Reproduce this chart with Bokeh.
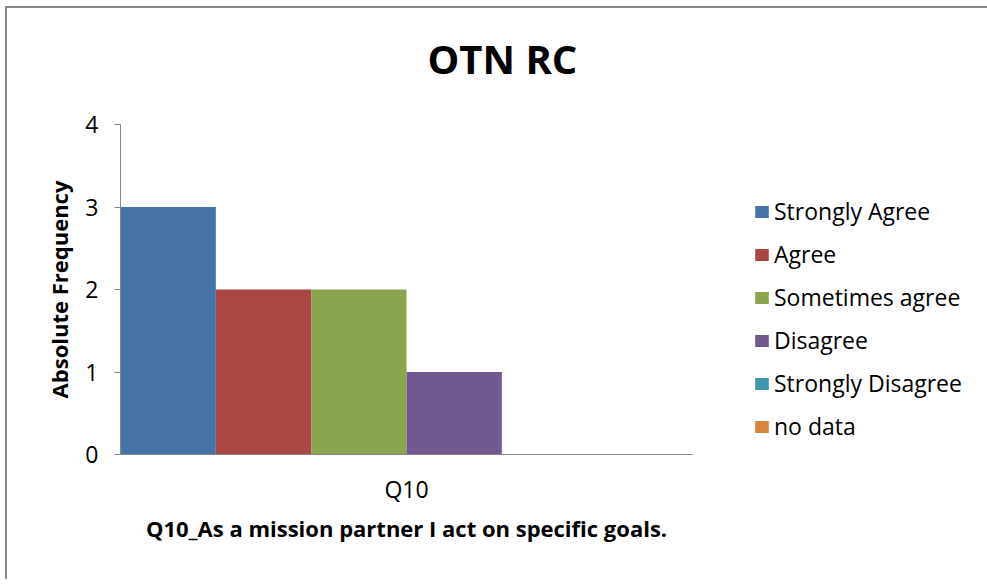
from bokeh.plotting import figure
from bokeh.models import (FactorRange, Range1d, FixedTicker, Legend, LegendItem, Title)
from bokeh.transform import dodge
from bokeh.embed import file_html
from bokeh.resources import INLINE

categories = ["Q10"]
series = ["Strongly Agree", "Agree", "Sometimes agree", "Disagree", "Strongly Disagree", "no data"]
values = [3, 2, 2, 1, 0, 0]
colors = ["#4572A7", "#AA4643", "#89A54E", "#71588F", "#4198AF", "#DB843D"]
y_ticks = [0, 1, 2, 3, 4]
title_text = "OTN RC"

FONT = "Open Sans"

p = figure(frame_width=572, frame_height=330, output_backend="svg", toolbar_location=None,
           x_range=FactorRange(factors=categories, range_padding=0),
           y_range=Range1d(0, 4),
           min_border_left=113, min_border_right=285, min_border_top=116, min_border_bottom=125)
p.title_location = None

spacer = Title(text=" ", text_font_size="1px", standoff=36)
p.add_layout(spacer, "above")
main_title = Title(text=title_text, text_font=FONT, text_font_size="40px", text_font_style="bold",
                   align="left", offset=307, standoff=0, text_color="#000000")
p.add_layout(main_title, "above")

n = len(series)
width = 1.0 / n
items = []
for i, (s, v, c) in enumerate(zip(series, values, colors)):
    off = (i + 0.5) * width - 0.5
    r = p.vbar(x=dodge("cat", off, range=p.x_range), top="val", width=width,
               source={"cat": categories, "val": [v]}, fill_color=c, line_color=None)
    items.append(LegendItem(label=s, renderers=[r]))

legend = Legend(items=items, location=(61, 12), orientation="vertical",
                glyph_width=17, glyph_height=15, label_height=23, spacing=11,
                label_text_font=FONT, label_text_font_size="23px", label_standoff=4,
                label_text_color="#000000",
                padding=0, margin=0, border_line_color=None, background_fill_alpha=0)
p.add_layout(legend, "right")

p.xgrid.visible = False
p.ygrid.visible = False
p.outline_line_color = None

p.yaxis.ticker = FixedTicker(ticks=y_ticks)
p.yaxis.axis_label = "Absolute Frequency"
p.yaxis.axis_label_text_font = FONT
p.yaxis.axis_label_text_font_size = "22px"
p.yaxis.axis_label_text_font_style = "bold"
p.yaxis.axis_label_text_color = "#000000"
p.yaxis.major_label_text_font = FONT
p.yaxis.major_label_text_font_size = "23px"
p.yaxis.major_label_text_color = "#000000"
p.yaxis.axis_line_color = "#868686"
p.yaxis.major_tick_line_color = "#868686"
p.yaxis.major_tick_out = 6
p.yaxis.major_tick_in = 0
p.yaxis.minor_tick_line_color = None
p.yaxis.major_label_standoff = 16
p.yaxis.axis_label_standoff = 8

p.xaxis.axis_label = "Q10_As a mission partner I act on specific goals."
p.xaxis.axis_label_text_font = FONT
p.xaxis.axis_label_text_font_size = "22px"
p.xaxis.axis_label_text_font_style = "bold"
p.xaxis.axis_label_text_color = "#000000"
p.xaxis.major_label_text_font = FONT
p.xaxis.major_label_text_font_size = "23px"
p.xaxis.major_label_text_color = "#000000"
p.xaxis.axis_line_color = "#868686"
p.xaxis.major_tick_line_color = None
p.xaxis.major_label_standoff = 12
p.xaxis.axis_label_standoff = 5

p.styles = {"border-left": "2px solid #888888", "border-top": "2px solid #888888",
            "margin-left": "5px", "margin-top": "6px"}

open("out.html", "w").write(file_html(p, INLINE))
